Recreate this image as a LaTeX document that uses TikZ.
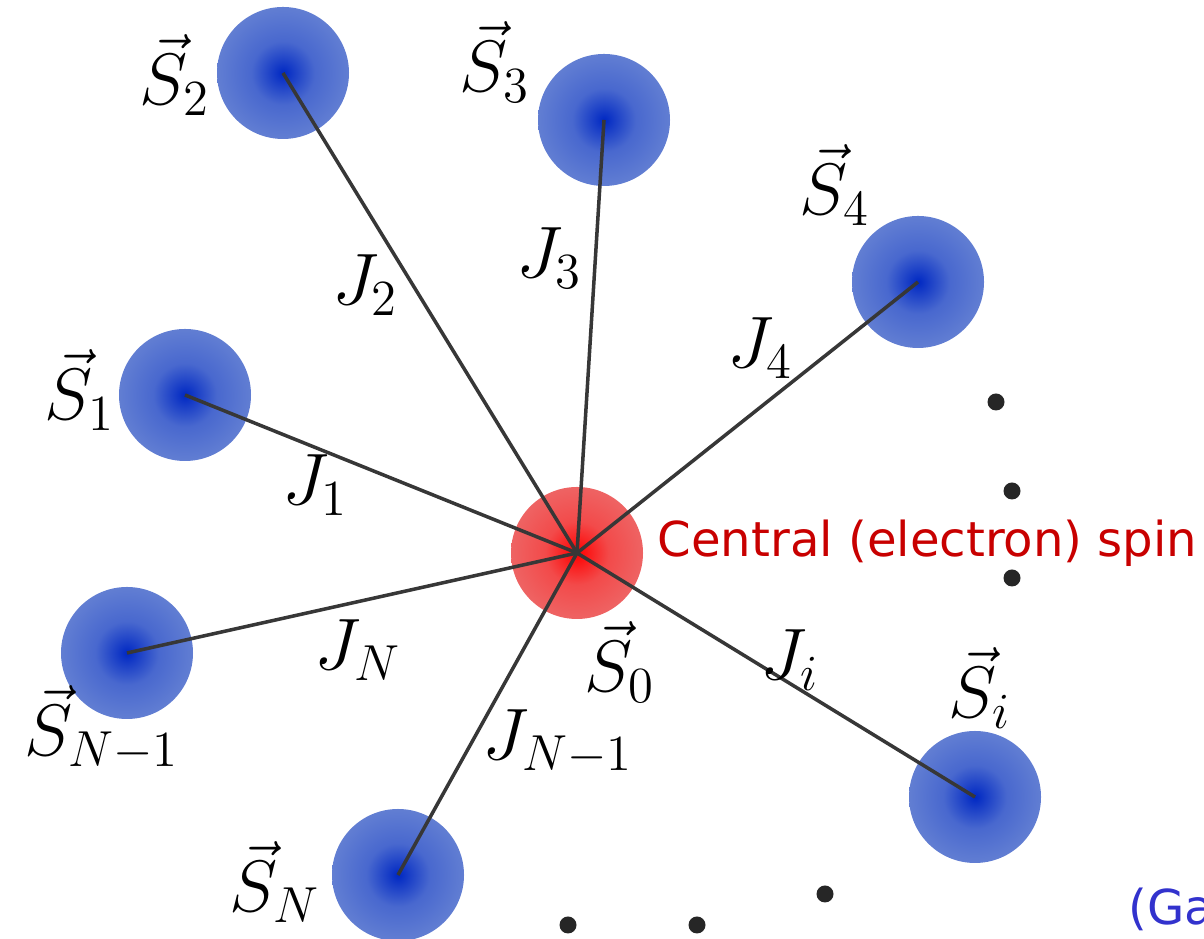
\documentclass[tikz,border=0pt]{standalone}
\usepackage{amsmath,amssymb}
\usepackage{fontspec}
\newfontfamily\textlabel{DejaVu Sans}
\definecolor{spinblue}{RGB}{0,40,195}
\definecolor{spinblueedge}{RGB}{145,168,218}
\definecolor{spinred}{RGB}{255,0,0}
\definecolor{spinrededge}{RGB}{230,148,148}
\definecolor{linkgray}{RGB}{55,55,55}
\definecolor{labelred}{RGB}{200,0,0}
\definecolor{labelblue}{RGB}{50,50,205}
\pgfdeclareradialshading{bluespin}{\pgfpoint{0bp}{0bp}}{color(0bp)=(spinblue); color(12bp)=(spinblue!50!spinblueedge); color(50bp)=(spinblueedge); color(100bp)=(spinblueedge)}
\pgfdeclareradialshading{redspin}{\pgfpoint{0bp}{0bp}}{color(0bp)=(spinred); color(12bp)=(spinred!50!spinrededge); color(50bp)=(spinrededge); color(100bp)=(spinrededge)}

\begin{document}
\begin{tikzpicture}[spin/.style={circle,inner sep=0pt,minimum size=1.32cm,shading=bluespin},
  center/.style={circle,inner sep=0pt,minimum size=1.32cm,shading=redspin},
  link/.style={draw=linkgray,line width=1pt},
  lab/.style={font=\fontsize{20.5}{24}\selectfont,inner sep=0pt}]
{
\useasboundingbox (0,0) rectangle (12.04,9.39);
\node[center] (s0) at (5.77,3.86) {};
\node[spin] (s1) at (1.85,5.44) {};
\node[spin] (s2) at (2.83,8.66) {};
\node[spin] (s3) at (6.04,8.19) {};
\node[spin] (s4) at (9.18,6.57) {};
\node[spin] (si) at (9.75,1.42) {};
\node[spin] (sn) at (3.98,0.64) {};
\node[spin] (snm) at (1.27,2.86) {};
\foreach \n in {s1,s2,s3,s4,si,sn,snm}{
\draw[link] (s0.center) -- (\n.center);
}
\foreach \x/\y in {9.96/5.37,10.12/4.48,10.12/3.61,8.25/0.45,6.97/0.14,5.68/0.14}{
\fill[black!85] (\x,\y) circle (0.085);
}
\node[lab] (ls0) at (6.20,2.77) {$\vec{S}_0$};
\node[lab] (ls1) at (0.80,5.49) {$\vec{S}_1$};
\node[lab] (ls2) at (1.75,8.64) {$\vec{S}_2$};
\node[lab] (ls3) at (4.95,8.77) {$\vec{S}_3$};
\node[lab] (ls4) at (8.35,7.54) {$\vec{S}_4$};
\node[lab] (lsi) at (9.80,2.51) {$\vec{S}_i$};
\node[lab] (lsn) at (2.75,0.57) {$\vec{S}_N$};
\node[lab] (lsnm) at (1.02,2.11) {$\vec{S}_{N-1}$};
\node[lab] (lj1) at (3.15,4.54) {$J_1$};
\node[lab] (lj2) at (3.65,6.54) {$J_2$};
\node[lab] (lj3) at (5.49,6.81) {$J_3$};
\node[lab] (lj4) at (7.60,5.91) {$J_4$};
\node[lab] (lji) at (7.90,2.79) {$J_i$};
\node[lab] (ljn) at (3.58,2.89) {$J_N$};
\node[lab] (ljnm) at (5.58,1.97) {$J_{N-1}$};
\node[anchor=base west,inner sep=0pt,text=labelred,font=\textlabel\fontsize{13.7}{16}\selectfont] (central) at (6.57,3.82) {Central (electron) spin};
\node[anchor=base west,inner sep=0pt,text=labelblue,font=\textlabel\fontsize{13.7}{16}\selectfont] (cite) at (11.28,0.14) {(Ga};
}
\end{tikzpicture}
\end{document}
